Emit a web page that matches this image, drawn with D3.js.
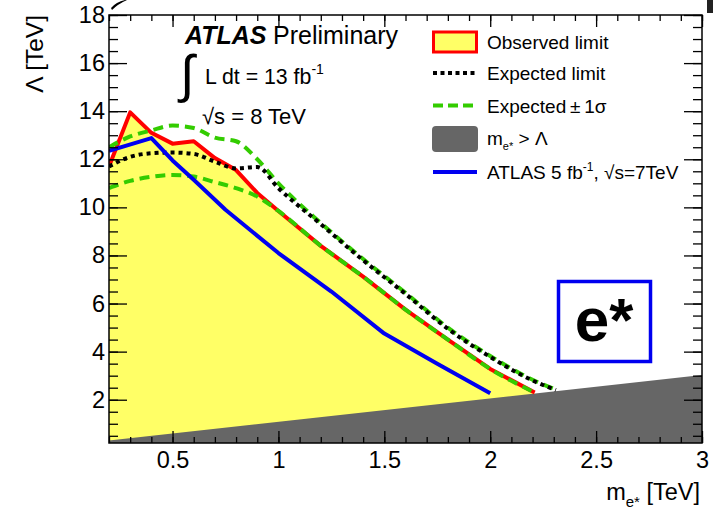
<!DOCTYPE html>
<html>
<head>
<meta charset="utf-8">
<script src="https://cdn.jsdelivr.net/npm/d3@7"></script>
<style>
  body { margin: 0; background: #fff; }
  svg { display: block; }
</style>
</head>
<body>
<svg id="chart" width="713" height="516"></svg>
<script>
// ---- data ----
const massObs = [0.2, 0.3, 0.4, 0.5, 0.6, 0.7, 0.8, 0.9, 1.0, 1.2, 1.4, 1.6, 1.8, 2.0, 2.21];
const lambdaObs = [11.7, 13.95, 13.1, 12.65, 12.75, 12.05, 11.55, 10.6, 9.85, 8.4, 7.12, 5.75, 4.5, 3.28, 2.3];

const massExp = [0.2, 0.3, 0.4, 0.5, 0.6, 0.7, 0.8, 0.9, 1.0, 1.2, 1.4, 1.6, 1.8, 2.0, 2.2, 2.31];
const lambdaExp = [11.7, 12.1, 12.25, 12.28, 12.22, 11.9, 11.62, 11.68, 10.8, 9.3, 7.8, 6.4, 4.95, 3.78, 2.8, 2.4];
const lambdaUp = [12.5, 12.95, 13.2, 13.4, 13.3, 12.9, 12.75, 12.0, 11.0, 9.35, 7.85, 6.45, 5.0, 3.82, 2.83, 2.42];

const massDown = [0.2, 0.3, 0.4, 0.5, 0.6, 0.7, 0.8, 0.9, 1.0, 1.2, 1.4, 1.6, 1.8, 2.0, 2.21];
const lambdaDown = [10.8, 11.1, 11.27, 11.35, 11.28, 11.05, 10.8, 10.45, 9.85, 8.4, 7.12, 5.75, 4.5, 3.28, 2.3];

const mass7TeV = [0.2, 0.4, 0.5, 0.6, 0.75, 1.0, 1.25, 1.5, 1.75, 2.0];
const lambda7TeV = [12.35, 12.88, 11.95, 11.15, 9.9, 8.1, 6.5, 4.75, 3.5, 2.27];

// excluded region m > Lambda (lower edge of the plot up to this line)
const massGray = [0.2, 3.0];
const lambdaGray = [0.3, 3.03];

const xTicks = [0.5, 1, 1.5, 2, 2.5, 3];
const xTickLabels = ["0.5", "1", "1.5", "2", "2.5", "3"];
const yTicks = [2, 4, 6, 8, 10, 12, 14, 16, 18];
const yTickLabels = ["2", "4", "6", "8", "10", "12", "14", "16", "18"];

// ---- setup ----
const FONT = '"Liberation Sans", Arial, Helvetica, sans-serif';
const SX = 1.0; // horizontal stretch of text
const YELLOW = "#ffff66";
const RED = "#ff0000";
const GREEN = "#33cc00";
const BLUE = "#0000f0";
const GRAY = "#666666";

const svg = d3.select("#chart");

const x = d3.scaleLinear().domain([0.2, 3]).range([109, 702]);
const y = d3.scaleLinear().domain([0.2, 18]).range([443, 15]);

const [x0, x1] = x.range();
const [y0, y1] = y.range();

// clip for the curves
svg.append("clipPath").attr("id", "plotclip")
  .append("rect")
  .attr("x", x0).attr("y", y1)
  .attr("width", x1 - x0).attr("height", y0 - y1);

const plot = svg.append("g").attr("clip-path", "url(#plotclip)");

// yellow observed exclusion
const area = d3.area()
  .x(d => x(d[0]))
  .y0(y0)
  .y1(d => y(d[1]));

plot.append("path")
  .datum(d3.zip(massObs, lambdaObs))
  .attr("d", area)
  .attr("fill", YELLOW);

// gray m > Lambda region
plot.append("path")
  .datum(d3.zip(massGray, lambdaGray))
  .attr("d", area)
  .attr("fill", GRAY);

const line = d3.line().x(d => x(d[0])).y(d => y(d[1]));
const smooth = d3.line().x(d => x(d[0])).y(d => y(d[1])).curve(d3.curveMonotoneX);

// observed
plot.append("path")
  .datum(d3.zip(massObs, lambdaObs))
  .attr("d", line)
  .attr("fill", "none")
  .attr("stroke", RED)
  .attr("stroke-width", 4)
  .attr("stroke-linejoin", "round");

// +-1 sigma
[[massDown, lambdaDown], [massExp, lambdaUp]].forEach(([m, l]) => {
  plot.append("path")
    .datum(d3.zip(m, l))
    .attr("d", smooth)
    .attr("fill", "none")
    .attr("stroke", GREEN)
    .attr("stroke-width", 4)
    .attr("stroke-dasharray", "10,6");
});

// expected
plot.append("path")
  .datum(d3.zip(massExp, lambdaExp))
  .attr("d", smooth)
  .attr("fill", "none")
  .attr("stroke", "#000")
  .attr("stroke-width", 4)
  .attr("stroke-dasharray", "4,4");

// ATLAS 7 TeV
plot.append("path")
  .datum(d3.zip(mass7TeV, lambda7TeV))
  .attr("d", line)
  .attr("fill", "none")
  .attr("stroke", BLUE)
  .attr("stroke-width", 4)
  .attr("stroke-linejoin", "round");

// ---- axes (ROOT style, ticks inside on all four sides) ----
const xMinor = d3.range(0.2, 3.0001, 0.1);
const yMinor = d3.range(0.5, 18.0001, 0.5);

function noDomain(g) { g.select(".domain").remove(); }

function tickAxis(axis, transform) {
  const g = svg.append("g").attr("transform", transform).call(axis).call(noDomain);
  g.selectAll("line").attr("stroke", "#000").attr("stroke-width", 1.3);
  return g;
}

// bottom
tickAxis(d3.axisBottom(x).tickValues(xMinor).tickSize(-6).tickFormat(""), `translate(0,${y0})`);
const xAxis = tickAxis(
  d3.axisBottom(x).tickValues(xTicks).tickSize(-12).tickPadding(8)
    .tickFormat((d, i) => xTickLabels[i]),
  `translate(0,${y0})`
);
// top
tickAxis(d3.axisTop(x).tickValues(xMinor).tickSize(-6).tickFormat(""), `translate(0,${y1})`);
tickAxis(d3.axisTop(x).tickValues(xTicks).tickSize(-12).tickFormat(""), `translate(0,${y1})`);
// left
tickAxis(d3.axisLeft(y).tickValues(yMinor).tickSize(-9).tickFormat(""), `translate(${x0},0)`);
const yAxis = tickAxis(
  d3.axisLeft(y).tickValues(yTicks).tickSize(-18).tickPadding(4)
    .tickFormat((d, i) => yTickLabels[i]),
  `translate(${x0},0)`
);
// right
tickAxis(d3.axisRight(y).tickValues(yMinor).tickSize(-9).tickFormat(""), `translate(${x1},0)`);
tickAxis(d3.axisRight(y).tickValues(yTicks).tickSize(-18).tickFormat(""), `translate(${x1},0)`);

[xAxis, yAxis].forEach(g => {
  g.attr("font-family", FONT).attr("font-size", 23.5);
  g.selectAll("text").attr("fill", "#000");
});

// frame
svg.append("rect")
  .attr("x", x0).attr("y", y1)
  .attr("width", x1 - x0).attr("height", y0 - y1)
  .attr("fill", "none")
  .attr("stroke", "#000")
  .attr("stroke-width", 1.5);

// ---- text helper ----
function label(px, py, size, opts = {}) {
  const t = svg.append("text")
    .attr("transform", `translate(${px},${py}) scale(${SX},1)` + (opts.rotate ? ` rotate(${opts.rotate})` : ""))
    .attr("font-family", FONT)
    .attr("font-size", size)
    .attr("fill", opts.fill || "#000")
    .attr("text-anchor", opts.anchor || "start");
  if (opts.weight) t.attr("font-weight", opts.weight);
  if (opts.style) t.attr("font-style", opts.style);
  return t;
}

// axis titles
label(700, 500, 23.5, { anchor: "end" }).call(t => {
  t.append("tspan").text("m");
  t.append("tspan").attr("font-size", 15).attr("dy", 7).text("e*");
  t.append("tspan").attr("dy", -7).text(" [TeV]");
});
label(43, 15, 24.5, { anchor: "end", rotate: -90 }).text("Λ [TeV]");

// ATLAS label
label(185, 44, 25, { weight: "bold", style: "italic" }).text("ATLAS");
label(273, 44, 25).text("Preliminary");

label(180, 92, 52).text("∫");
label(205, 84, 21.3).call(t => {
  t.append("tspan").text("L dt = 13 fb");
  t.append("tspan").attr("font-size", 14).attr("dy", -10).text("-1");
});
label(202, 124, 22).text("√s = 8 TeV");

// ---- legend ----
const legX0 = 433, legX1 = 477, legText = 487;
const legY = [42, 73, 105.5, 138, 172];

svg.append("rect")
  .attr("x", legX0 + 0.5).attr("y", legY[0] - 10)
  .attr("width", legX1 - legX0 - 1).attr("height", 20)
  .attr("fill", YELLOW).attr("stroke", RED).attr("stroke-width", 3);

svg.append("line")
  .attr("x1", legX0).attr("x2", legX1).attr("y1", legY[1]).attr("y2", legY[1])
  .attr("stroke", "#000").attr("stroke-width", 4).attr("stroke-dasharray", "4,3.5");

svg.append("line")
  .attr("x1", legX0).attr("x2", legX1).attr("y1", legY[2]).attr("y2", legY[2])
  .attr("stroke", GREEN).attr("stroke-width", 4).attr("stroke-dasharray", "10,5");

svg.append("rect")
  .attr("x", legX0 - 1).attr("y", legY[3] - 12)
  .attr("width", legX1 - legX0 + 2).attr("height", 26)
  .attr("rx", 4)
  .attr("fill", GRAY);

svg.append("line")
  .attr("x1", legX0).attr("x2", legX1).attr("y1", legY[4]).attr("y2", legY[4])
  .attr("stroke", BLUE).attr("stroke-width", 4);

const LS = 19;
label(legText, legY[0] + 7, LS).text("Observed limit");
label(legText, legY[1] + 7, LS).text("Expected limit");
label(legText, legY[2] + 7, LS).text("Expected\u2009±\u20091σ");
label(legText, legY[3] + 7, LS).call(t => {
  t.append("tspan").text("m");
  t.append("tspan").attr("font-size", 11).attr("dy", 5).text("e*");
  t.append("tspan").attr("dy", -5).text(" > Λ");
});
label(legText, legY[4] + 7, LS).call(t => {
  t.append("tspan").text("ATLAS 5 fb");
  t.append("tspan").attr("font-size", 12).attr("dy", -8).text("-1");
  t.append("tspan").attr("dy", 8).text(", √s=7TeV");
});

// ---- e* box ----
svg.append("rect")
  .attr("x", 558.5).attr("y", 281.5)
  .attr("width", 92).attr("height", 80)
  .attr("fill", "#fff")
  .attr("stroke", BLUE)
  .attr("stroke-width", 3.5);
label(604, 341, 62, { anchor: "middle", weight: "bold" }).text("e*");

// cropping artefacts at the top edge of the picture
svg.append("path")
  .attr("d", "M111,8 Q116,2 125,0 L127,0 Q118,4 112,10 Z")
  .attr("fill", "#000");
svg.append("rect")
  .attr("x", 707).attr("y", 0).attr("width", 6).attr("height", 13)
  .attr("fill", "#222");
</script>
</body>
</html>
